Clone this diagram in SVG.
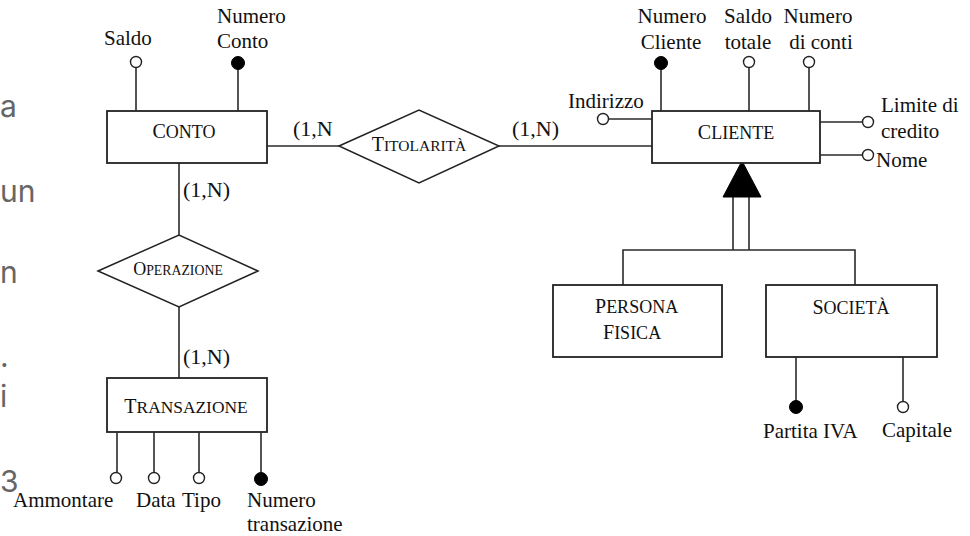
<svg xmlns="http://www.w3.org/2000/svg" width="970" height="536" viewBox="0 0 970 536">
<style>
  .bg { fill: #ffffff; }
  .ent { fill: #ffffff; stroke: #222; stroke-width: 1.8; }
  .rel { fill: #ffffff; stroke: #222; stroke-width: 1.5; }
  .ln { fill: none; stroke: #2a2a2a; stroke-width: 1.6; }
  .ao { fill: #ffffff; stroke: #222; stroke-width: 1.4; }
  .af { fill: #000000; stroke: #000; stroke-width: 1; }
  .t { font-family: "Liberation Serif", "Times New Roman", serif; font-size: 21px; fill: #111; }
  .c { font-family: "Liberation Serif", "Times New Roman", serif; font-size: 22px; fill: #111; }
  .sc { font-family: "Liberation Serif", "Times New Roman", serif; font-size: 18px; fill: #111; text-anchor: middle; }
  .big { font-size: 20px; }
  .frag { font-family: Inter, "Noto Sans", sans-serif; font-size: 30px; fill: #666; }
</style>
<rect class="bg" x="0" y="0" width="970" height="536"/>

<g id="fragments">
  <text class="frag" x="0" y="117">a</text>
  <text class="frag" x="0" y="202">un</text>
  <text class="frag" x="0" y="283">n</text>
  <text class="frag" x="0" y="367">.</text>
  <text class="frag" x="0" y="407">i</text>
  <text class="frag" x="0" y="492">3</text>
</g>

<g id="connectors">
  <line class="ln" x1="267" y1="146" x2="339" y2="146"/>
  <line class="ln" x1="499" y1="146" x2="652" y2="146"/>
  <line class="ln" x1="179" y1="163" x2="179" y2="235"/>
  <line class="ln" x1="179" y1="307" x2="179" y2="378"/>
  <line class="ln" x1="733" y1="197" x2="733" y2="250"/>
  <line class="ln" x1="749" y1="197" x2="749" y2="250"/>
  <polyline class="ln" points="623,285 623,250 855,250 855,285"/>
  <polygon points="742,161 723,197 761,197" fill="#000" stroke="#000" stroke-width="1"/>
  <text class="c" x="293" y="136">(1,N</text>
  <text class="c" x="512" y="136">(1,N)</text>
  <text class="c" x="183" y="197">(1,N)</text>
  <text class="c" x="183" y="364">(1,N)</text>
</g>

<g id="conto">
  <rect class="ent" x="107" y="111" width="160" height="52"/>
  <text class="sc" x="184" y="138"><tspan class="big">C</tspan>ONTO</text>
  <line class="ln" x1="136" y1="68" x2="136" y2="111"/>
  <circle class="ao" cx="136" cy="62" r="5.5"/>
  <text class="t" x="104" y="45">Saldo</text>
  <line class="ln" x1="238" y1="69" x2="238" y2="111" stroke="#555"/>
  <circle class="af" cx="238" cy="63" r="6.5"/>
  <text class="t" x="217" y="23">Numero</text>
  <text class="t" x="217" y="48">Conto</text>
</g>

<g id="titolarita">
  <polygon class="rel" points="339,146 419,110 499,146 419,183"/>
  <text class="sc" x="419" y="151" style="font-size:15.5px"><tspan class="big">T</tspan>ITOLARITÀ</text>
</g>

<g id="cliente">
  <rect class="ent" x="652" y="111" width="168" height="52"/>
  <text class="sc" x="736" y="139"><tspan class="big">C</tspan>LIENTE</text>
  <line class="ln" x1="661" y1="69" x2="661" y2="111"/>
  <circle class="af" cx="661" cy="63" r="6.5"/>
  <text class="t" x="672" y="23" text-anchor="middle">Numero</text>
  <text class="t" x="671" y="49" text-anchor="middle">Cliente</text>
  <line class="ln" x1="749" y1="68" x2="749" y2="111"/>
  <circle class="ao" cx="749" cy="62" r="5.5"/>
  <text class="t" x="748" y="23" text-anchor="middle">Saldo</text>
  <text class="t" x="748" y="49" text-anchor="middle">totale</text>
  <line class="ln" x1="809" y1="68" x2="809" y2="111"/>
  <circle class="ao" cx="809" cy="62" r="5.5"/>
  <text class="t" x="818" y="23" text-anchor="middle">Numero</text>
  <text class="t" x="821" y="49" text-anchor="middle">di conti</text>
  <line class="ln" x1="609" y1="119" x2="652" y2="119"/>
  <circle class="ao" cx="603" cy="119" r="5.5"/>
  <text class="t" x="568" y="108">Indirizzo</text>
  <line class="ln" x1="820" y1="122" x2="862" y2="122"/>
  <circle class="ao" cx="868" cy="122" r="5.5"/>
  <text class="t" x="881" y="112">Limite di</text>
  <text class="t" x="881" y="138">credito</text>
  <line class="ln" x1="820" y1="155" x2="862" y2="155"/>
  <circle class="ao" cx="868" cy="155" r="5.5"/>
  <text class="t" x="876" y="167">Nome</text>
</g>

<g id="operazione">
  <polygon class="rel" points="98,271 179,235 258,271 179,307"/>
  <text class="sc" x="178" y="275" style="font-size:13.8px"><tspan style="font-size:18px">O</tspan>PERAZIONE</text>
</g>

<g id="transazione">
  <rect class="ent" x="107" y="378" width="160" height="54"/>
  <text class="sc" x="186" y="413" style="font-size:17.4px"><tspan class="big">T</tspan>RANSAZIONE</text>
  <line class="ln" x1="117" y1="432" x2="117" y2="472"/>
  <circle class="ao" cx="116" cy="478" r="5.5"/>
  <line class="ln" x1="154" y1="432" x2="154" y2="472"/>
  <circle class="ao" cx="154" cy="478" r="5.5"/>
  <line class="ln" x1="199" y1="432" x2="199" y2="472"/>
  <circle class="ao" cx="199" cy="478" r="5.5"/>
  <line class="ln" x1="261" y1="432" x2="261" y2="472"/>
  <circle class="af" cx="261" cy="479" r="6.5"/>
  <text class="t" x="13" y="507">Ammontare</text>
  <text class="t" x="136" y="507">Data</text>
  <text class="t" x="182" y="507">Tipo</text>
  <text class="t" x="247" y="507">Numero</text>
  <text class="t" x="247" y="531">transazione</text>
</g>

<g id="persona-fisica">
  <rect class="ent" x="553" y="285" width="169" height="72"/>
  <text class="sc" x="595" y="313" style="text-anchor:start"><tspan class="big">P</tspan>ERSONA</text>
  <text class="sc" x="603" y="339" style="text-anchor:start"><tspan class="big">F</tspan>ISICA</text>
</g>

<g id="societa">
  <rect class="ent" x="766" y="285" width="171" height="72"/>
  <text class="sc" x="851" y="314"><tspan class="big">S</tspan>OCIETÀ</text>
  <line class="ln" x1="796" y1="357" x2="796" y2="401"/>
  <circle class="af" cx="796" cy="407" r="6.5"/>
  <text class="t" x="763" y="438">Partita IVA</text>
  <line class="ln" x1="903" y1="357" x2="903" y2="401"/>
  <circle class="ao" cx="903" cy="407" r="5.5"/>
  <text class="t" x="882" y="437">Capitale</text>
</g>
</svg>
